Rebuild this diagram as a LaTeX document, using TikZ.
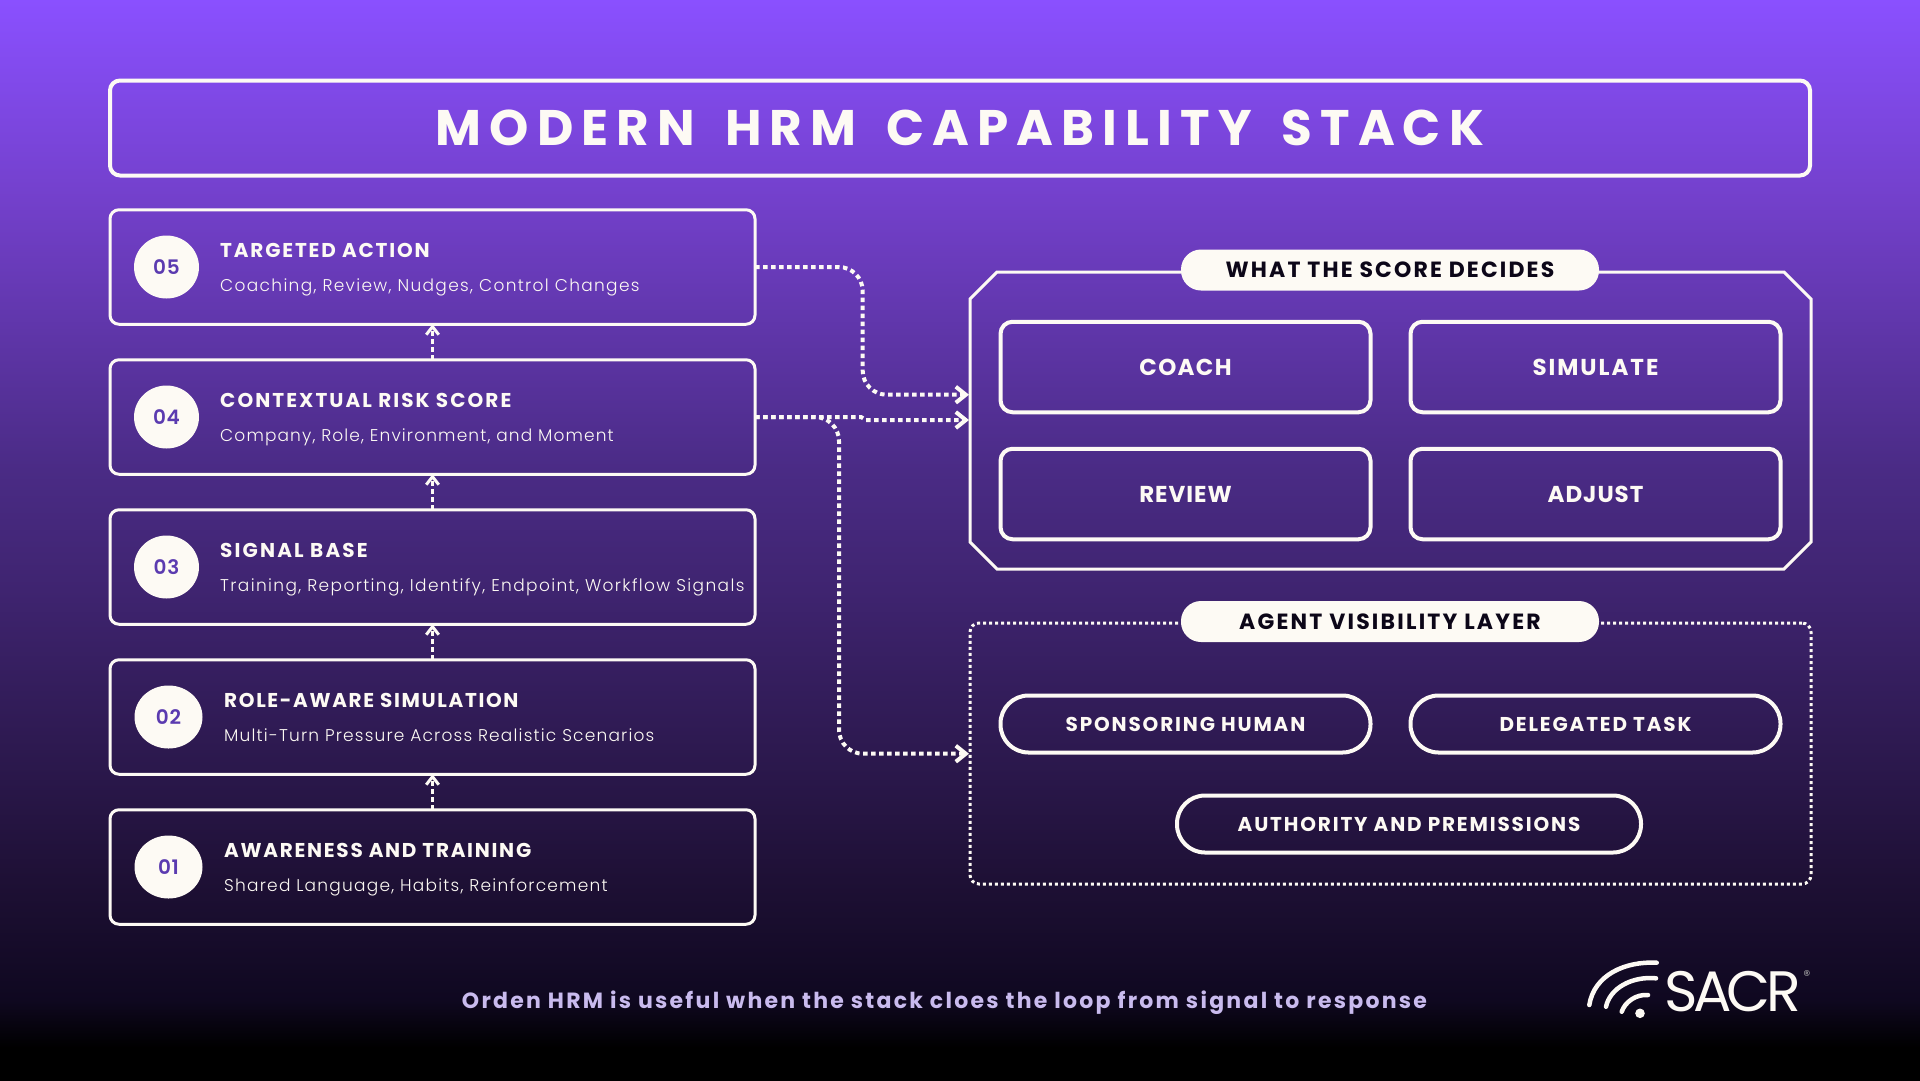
\documentclass[tikz,border=0pt]{standalone}
\usepackage{fontspec}
\usetikzlibrary{arrows.meta,calc,shapes.geometric}
\setmainfont{Poppins}
\newfontfamily\ftitle{Poppins Bold}[LetterSpace=16.2,WordSpace=1.6]
\newfontfamily\fbold{Poppins Bold}
\newfontfamily\fsemi{Poppins SemiBold}
\newfontfamily\fsub{Poppins Light}
\newcommand{\ls}[1]{\addfontfeature{LetterSpace=#1}}
\definecolor{ink}{HTML}{FDFAF4}
\definecolor{numc}{HTML}{5B3BB0}
\definecolor{pilltxt}{HTML}{0C0618}
\definecolor{footc}{HTML}{C9BBEE}
\definecolor{bg0}{HTML}{8A50FF}
\definecolor{bg1}{HTML}{7340CB}
\definecolor{bg2}{HTML}{4A2B85}
\definecolor{bg3}{HTML}{3F2470}
\definecolor{bg4}{HTML}{1E1035}
\definecolor{bg5}{HTML}{0F0820}
\definecolor{bg6}{HTML}{000000}
\pgfdeclareverticalshading{bgshade}{100bp}{color(0bp)=(bg6); color(26.5bp)=(bg6); color(28.7bp)=(bg5); color(34.25bp)=(bg4); color(47.7bp)=(bg3); color(53.25bp)=(bg2); color(65.75bp)=(bg1); color(75bp)=(bg0); color(100bp)=(bg0)}
\tikzset{
  stackbox/.style={draw=ink,line width=3pt,rounded corners=9pt,minimum width=645pt,minimum height=114.5pt,outer sep=0pt,inner sep=0pt},
  numdisc/.style={ellipse,fill=ink,minimum height=63pt,inner sep=0pt,text=numc,font=\fsemi\fontsize{20}{20}\selectfont\ls{4}},
  headtxt/.style={anchor=base west,inner sep=0pt,text=ink,font=\fbold\fontsize{20}{20}\selectfont},
  subtxt/.style={anchor=base west,inner sep=0pt,text=ink,font=\fsub\fontsize{17}{17}\selectfont},
  btnbox/.style={draw=ink,line width=4pt,rounded corners=12pt,minimum width=370pt,minimum height=90.5pt,outer sep=0pt,inner sep=0pt,text=ink,font=\fbold\fontsize{23}{23}\selectfont},
  capsule/.style={draw=ink,line width=4pt,rounded corners=28pt,minimum width=370pt,minimum height=57pt,outer sep=0pt,inner sep=0pt,text=ink,font=\fbold\fontsize{20}{20}\selectfont\ls{9.2}},
  pill/.style={fill=ink,rounded corners=20pt,minimum width=418pt,minimum height=41pt,outer sep=0pt,inner sep=0pt,text=pilltxt,font=\fbold\fontsize{22}{22}\selectfont\ls{9.8}},
  dotline/.style={draw=ink,line width=4pt,dash pattern=on 4.5pt off 3.5pt,rounded corners=24pt},
  tip/.style={-{Straight Barb[length=10pt,width=16pt,line width=4pt]}},
  tipup/.style={-{Straight Barb[length=8pt,width=12.5pt,line width=3pt]}}
}
% id, y, disc x, disc width, text x, head spacing, head, sub spacing, sub
\newcommand{\stackrow}[9]{%
  \node[stackbox] (s#1) at (432.5,#2) {};
  \node[numdisc,minimum width=#4pt] (n#1) at (#3,#2) {0#1};
  \node[headtxt] (h#1) at (#5,#2-10) {\ls{#6}#7};
  \node[subtxt] (t#1) at (#5,#2+24) {\ls{#8}#9};
}
\begin{document}
\begin{tikzpicture}[x=1pt,y=-1pt]
\useasboundingbox (0,0) rectangle (1920,1080);
\shade[shading=bgshade] (0,0) rectangle (1920,1080);
% title
\node[draw=ink,line width=4pt,rounded corners=10pt,minimum width=1700pt,minimum height=95pt,outer sep=0pt,inner sep=0pt,text=ink,font=\ftitle\fontsize{50}{50}\selectfont] (title) at (960,128) {\raisebox{-1.5pt}{MODERN HRM CAPABILITY STACK}};
% stack
\stackrow{5}{267}{166.5}{65}{220}{9.2}{TARGETED ACTION}{7.8}{Coaching, Review, Nudges, Control Changes}
\stackrow{4}{417}{166.5}{65}{220}{10.35}{CONTEXTUAL RISK SCORE}{6.7}{Company, Role, Environment, and Moment}
\stackrow{3}{567}{166.5}{65}{220}{10.8}{SIGNAL BASE}{8.05}{Training, Reporting, Identify, Endpoint, Workflow Signals}
\stackrow{2}{717}{168.5}{68}{224}{8.3}{ROLE-AWARE SIMULATION}{7}{Multi-Turn Pressure Across Realistic Scenarios}
\stackrow{1}{867}{168.5}{68}{224}{8.6}{AWARENESS AND TRAINING}{7.2}{Shared Language, Habits, Reinforcement}
% panels
\node[minimum width=841pt,minimum height=297pt,outer sep=0pt,inner sep=0pt] (panel) at (1390.5,420.5) {};
\draw[ink,line width=3pt,line join=miter] ($(panel.north west)+(27,0)$) -- ($(panel.north east)+(-27,0)$) -- ($(panel.north east)+(0,27)$) -- ($(panel.south east)+(0,-27)$) -- ($(panel.south east)+(-27,0)$) -- ($(panel.south west)+(27,0)$) -- ($(panel.south west)+(0,-27)$) -- ($(panel.north west)+(0,27)$) -- cycle;
\node[draw=ink,line width=3pt,dash pattern=on 3pt off 3pt,rounded corners=9pt,minimum width=841pt,minimum height=261pt,outer sep=0pt,inner sep=0pt] (agent) at (1390.5,753.5) {};
\node[pill] (p1) at (1390,270) {WHAT THE SCORE DECIDES};
\node[pill] (p2) at (1390,621.5) {\ls{10}AGENT VISIBILITY LAYER};
\node[btnbox] (coach) at (1185.5,367) {\ls{5.8}COACH};
\node[btnbox] (simulate) at (1595.5,367) {\ls{8.5}SIMULATE};
\node[btnbox] (review) at (1185.5,494) {\ls{4.2}REVIEW};
\node[btnbox] (adjust) at (1595.5,494) {\ls{4.2}ADJUST};
\node[capsule] (c1) at (1185.5,724) {SPONSORING HUMAN};
\node[capsule] (c2) at (1595.5,724) {DELEGATED TASK};
\node[capsule,minimum width=464pt] (c3) at (1409,824) {AUTHORITY AND PREMISSIONS};
% connectors
\foreach \a/\b in {1/2,2/3,3/4,4/5}{\draw[dotline,line width=3.5pt,tipup] (s\a.north) -- (s\b.south);}
\coordinate (e5) at (969,394.7);
\coordinate (e4) at (969,420);
\coordinate (e3) at (969,753.7);
\coordinate (k5a) at (862.7,267);
\coordinate (k5b) at (862.7,394.7);
\coordinate (k4a) at (839,417);
\coordinate (k4b) at (839,753.7);
\coordinate (j1) at (861,417);
\coordinate (j2) at (866,420);
\draw[dotline,tip] (s5.east) -- (k5a) -- (k5b) -- (e5);
\draw[dotline,tip] (s4.east) -- (k4a) -- (k4b) -- (e3);
\draw[dotline,rounded corners=0pt,tip] (s4.east) -- (j1) -- (j2) -- (e4);
% footer
\node[anchor=base,inner sep=0pt,text=footc,font=\fbold\fontsize{22}{22}\selectfont\ls{10.3}] (foot) at (944.5,1008) {Orden HRM is useful when the stack cloes the loop from signal to response};
% logo
\draw[ink,line width=4.5pt,line cap=round] (1589.3,1005) .. controls (1594,975) and (1625,961) .. (1656.7,962.7);
\draw[ink,line width=4.5pt,line cap=round] (1606,1006.7) .. controls (1610,988) and (1632,976) .. (1656,978.3);
\draw[ink,line width=4.5pt,line cap=round] (1621.7,1011.7) .. controls (1625,1002) and (1636,994) .. (1648,995);
\fill[ink] (1640,1013.3) circle (4.8pt);
\node[anchor=base west,inner sep=0pt,text=ink,font=\fontsize{57}{57}\selectfont\ls{-8}] (sacr) at (1664,1011.7) {SACR};
\node[inner sep=0pt,text=gray!70!white,font=\fontsize{14}{14}\selectfont] (reg) at (1807,975.7) {®};
\end{tikzpicture}
\end{document}
